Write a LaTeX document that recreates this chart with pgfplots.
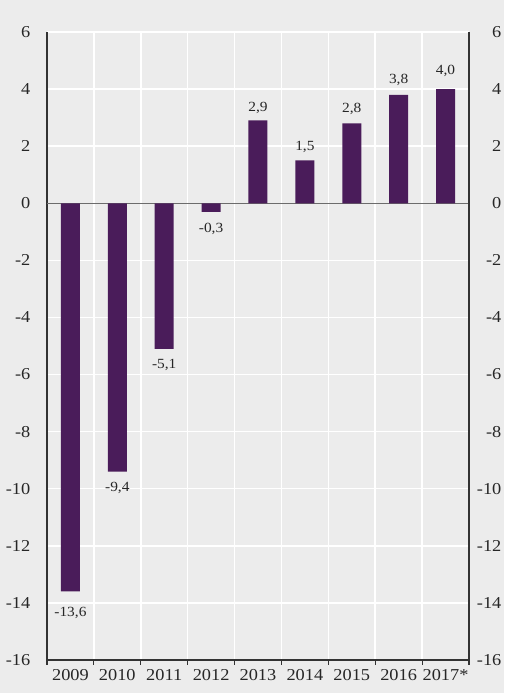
\documentclass[border=0pt]{standalone}
\usepackage{pgfplots}
\pgfplotsset{compat=1.18}
\usepackage{fontspec}
\setmainfont{Liberation Serif}[FakeStretch=1.1]
\definecolor{bgc}{HTML}{ECECEC}
\definecolor{barc}{HTML}{4A1C5A}
\definecolor{titc}{HTML}{5B3FA0}
\definecolor{axc}{HTML}{333333}
\begin{document}
\begin{tikzpicture}[x=1pt,y=1pt]
\fill[bgc] (-35.25,-24.75) rectangle (342.75,495);
\useasboundingbox (-35.25,-24.75) rectangle (342.75,495);
\node[anchor=base west, text=titc, font=\fontsize{12}{14}\selectfont, inner sep=0pt] at (-17.5,497.5) {(by volume, in percent of total)};
\begin{axis}[
  at={(0,0)}, anchor=south west,
  scale only axis, width=316.5pt, height=471pt,
  xmin=0, xmax=9, ymin=-16, ymax=6,
  xtick={0,1,...,9},
  xticklabels={2009,2010,2011,2012,2013,2014,2015,2016,2017*},
  x tick label as interval,
  ytick={-16,-14,...,6},
  axis x line*=bottom, axis y line*=left,
  axis line style={draw=axc, line width=1.2pt},
  xmajorgrids, ymajorgrids,
  major grid style={draw=white, line width=1.1pt},
  tick align=outside, major tick length=3.5pt,
  xtick style={draw=axc, line width=0.9pt},
  ytick style={draw=none},
  /pgf/number format/assume math mode=true,
  ticklabel style={font=\fontsize{12.5}{14}\selectfont, text=black!85},
  xticklabel style={inner sep=0pt, anchor=north, yshift=-3pt},
  yticklabel style={inner sep=0pt, anchor=east, xshift=-8.8pt},
  extra y ticks={0}, extra y tick labels={},
  extra y tick style={ymajorgrids, major grid style={draw=gray!85!black, line width=1.1pt}, ytick style={draw=none}},
  clip=false,
]
\addplot[ybar, bar width=14.25pt, bar shift=0pt, fill=barc, draw=none,
  point meta=explicit symbolic,
  visualization depends on={value \thisrow{off} \as \off},
  visualization depends on={value \thisrow{anc} \as \anc},
  nodes near coords,
  every node near coord/.append style={font=\fontsize{10.5}{12}\selectfont, text=black!85, inner sep=0pt, anchor=\anc, yshift=\off pt}]
  table[x=x, y=y, meta=lab] {
x    y     lab   off    anc
0.5  -13.6 -13,6 -11.25 north
1.5  -9.4  -9,4  -7.5   north
2.5  -5.1  -5,1  -7.9   north
3.5  -0.3  -0,3  -8.25  north
4.5  2.9   2,9   6.75   base
5.5  1.5   1,5   7.5    base
6.5  2.8   2,8   8      base
7.5  3.8   3,8   8.25   base
8.5  4.0   4,0   11.25  base
};
\end{axis}
\begin{axis}[
  at={(0,0)}, anchor=south west,
  scale only axis, width=316.5pt, height=471pt,
  xmin=0, xmax=9, ymin=-16, ymax=6,
  axis x line=none, axis y line*=right,
  axis line style={draw=axc, line width=1.2pt},
  ytick={-16,-14,...,6},
  ytick style={draw=none},
  /pgf/number format/assume math mode=true,
  ticklabel style={font=\fontsize{12.5}{14}\selectfont, text=black!85},
  yticklabel style={inner sep=0pt, anchor=east, xshift=24.5pt},
]
\end{axis}
\end{tikzpicture}
\end{document}
